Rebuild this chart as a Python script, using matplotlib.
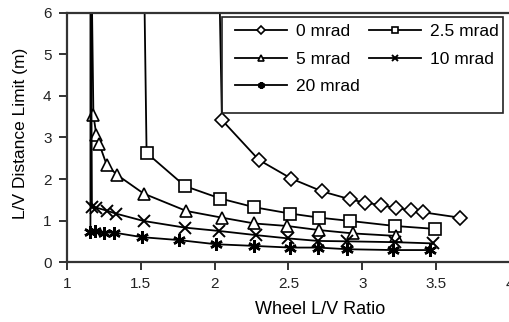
import matplotlib
matplotlib.use('Agg')
import matplotlib.pyplot as plt
from matplotlib.patches import Rectangle

plt.rcParams['font.family'] = ['Liberation Sans', 'DejaVu Sans']

# first point of each curve is the asymptote (off the top of the axes)
x_0 = [2.02, 2.05, 2.30, 2.52, 2.73, 2.92, 3.02, 3.13, 3.23, 3.33, 3.41, 3.66]
y_0 = [9.0, 3.42, 2.46, 2.01, 1.70, 1.51, 1.43, 1.37, 1.30, 1.25, 1.20, 1.07]

x_25 = [1.515, 1.54, 1.80, 2.04, 2.27, 2.51, 2.71, 2.92, 3.22, 3.49]
y_25 = [9.0, 2.63, 1.83, 1.53, 1.32, 1.17, 1.07, 0.99, 0.87, 0.80]

x_5 = [1.16, 1.18, 1.20, 1.22, 1.27, 1.34, 1.52, 1.81, 2.05, 2.27, 2.49, 2.71, 2.94, 3.23]
y_5 = [9.0, 3.54, 3.06, 2.84, 2.34, 2.10, 1.65, 1.23, 1.07, 0.93, 0.87, 0.77, 0.69, 0.63]

x_10 = [1.16, 1.17, 1.20, 1.27, 1.33, 1.52, 1.80, 2.03, 2.28, 2.50, 2.70, 2.90, 3.22, 3.48]
y_10 = [9.0, 1.33, 1.31, 1.24, 1.17, 0.99, 0.83, 0.75, 0.65, 0.57, 0.51, 0.50, 0.48, 0.45]

x_20 = [1.16, 1.16, 1.19, 1.25, 1.32, 1.51, 1.76, 2.01, 2.27, 2.51, 2.70, 2.90, 3.21, 3.46]
y_20 = [9.0, 0.73, 0.75, 0.71, 0.71, 0.60, 0.53, 0.43, 0.39, 0.35, 0.35, 0.31, 0.29, 0.29]

series = [
    ('0 mrad', x_0, y_0, 'D', 7, 1.2),
    ('2.5 mrad', x_25, y_25, 's', 8, 1.2),
    ('5 mrad', x_5, y_5, '^', 9, 1.2),
    ('10 mrad', x_10, y_10, 'x', 9, 1.4),
    ('20 mrad', x_20, y_20, (6, 2, 0), 9, 1.8),
]

fig = plt.figure(figsize=(5.1, 3.22), dpi=100)
ax = fig.add_axes([0.131, 0.186, 0.869, 0.774])

handles = {}
for label, xs, ys, m, ms, mw in series:
    line, = ax.plot(xs, ys, color='black', lw=1.3, marker=m, ms=ms,
                    mfc='white', mec='black', mew=mw,
                    markevery=slice(1, None), label=label)
    handles[label] = line

ax.set_xlim(1, 4)
ax.set_ylim(0, 6)
ax.set_xticks([1, 1.5, 2, 2.5, 3, 3.5, 4])
ax.set_xticklabels(['1', '1.5', '2', '2.5', '3', '3.5', '4'])
ax.set_yticks(range(7))
ax.tick_params(labelsize=11, direction='out', length=6, width=1.3,
               colors='#222222', pad=5)
ax.spines['right'].set_visible(False)
for s in ['left', 'bottom', 'top']:
    ax.spines[s].set_linewidth(1.6)
    ax.spines[s].set_color('#333333')

ax.set_xlabel('Wheel L/V Ratio', fontsize=13)
ax.xaxis.set_label_coords(0.571, -0.157)
ax.set_ylabel('L/V Distance Limit (m)', fontsize=12.5)
ax.yaxis.set_label_coords(-0.088, 0.518)

order = ['0 mrad', '5 mrad', '20 mrad', '2.5 mrad', '10 mrad']
leg = ax.legend([handles[k] for k in order], order, ncol=2, loc='upper left',
                bbox_to_anchor=(0.379, 0.954), fontsize=12.5, frameon=False,
                markerscale=0.55, handlelength=3.0, columnspacing=0.55,
                handletextpad=0.5, labelspacing=0.7, borderpad=0,
                borderaxespad=0)
ax.add_patch(Rectangle((0.350, 0.598), 0.634, 0.386, transform=ax.transAxes,
                       fill=False, ec='#222222', lw=1.2, zorder=4))

fig.savefig('out.png', dpi=100)
